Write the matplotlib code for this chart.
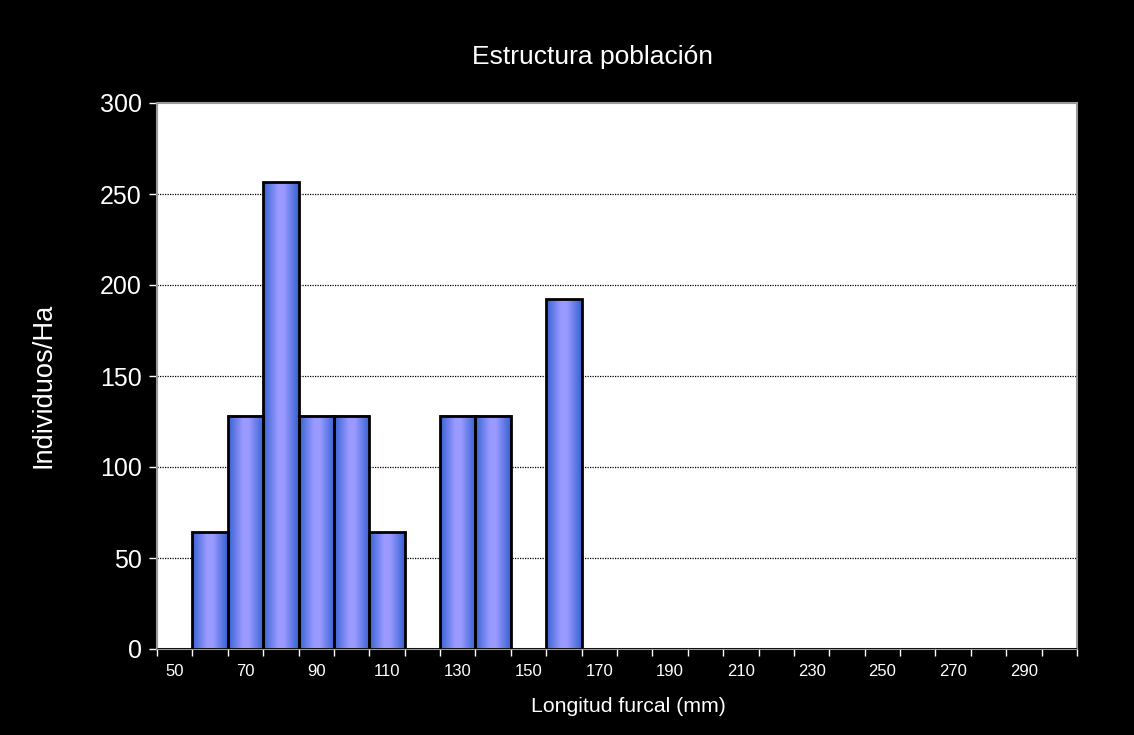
import numpy as np
import matplotlib
matplotlib.use("Agg")
import matplotlib.pyplot as plt
from matplotlib.colors import LinearSegmentedColormap

categories = [50, 60, 70, 80, 90, 100, 110, 120, 130, 140, 150, 160, 170, 180,
              190, 200, 210, 220, 230, 240, 250, 260, 270, 280, 290, 300]
values = [0, 64.1, 128.2, 256.4, 128.2, 128.2, 64.1, 0, 128.2, 128.2, 0, 192.3, 0, 0,
          0, 0, 0, 0, 0, 0, 0, 0, 0, 0, 0, 0]
yticks = [0, 50, 100, 150, 200, 250, 300]

plt.rcParams['font.family'] = ['Liberation Sans', 'DejaVu Sans']

fig = plt.figure(figsize=(11.34, 7.35), dpi=100, facecolor='black')
ax = fig.add_axes([157/1134, 1-649/735, (1077-157)/1134, (649-103)/735])
ax.set_facecolor('white')

x = np.arange(len(categories))

cmap = LinearSegmentedColormap.from_list('g', [(0, '#3560d2'), (0.42, '#9b9bff'),
                                               (0.58, '#9b9bff'), (1, '#3560d2')])
grad = np.linspace(0, 1, 256).reshape(1, -1)
bars = ax.bar(x, values, width=1.0, fill=False, edgecolor='black', linewidth=2, zorder=3)
for b, v in zip(bars, values):
    if v > 0:
        x0 = b.get_x()
        ax.imshow(grad, cmap=cmap, aspect='auto', extent=(x0, x0 + b.get_width(), 0, v),
                  zorder=2, interpolation='bicubic')
ax.set_xlim(-0.5, len(categories) - 0.5)
ax.set_ylim(0, 300)

for y in yticks[1:-1]:
    ax.axhline(y, color='black', linestyle=(0, (1, 1)), linewidth=0.9, zorder=1)

ax.set_yticks(yticks)
ax.set_yticklabels([str(v) for v in yticks], fontsize=18, color='white')
ax.tick_params(axis='y', colors='white', length=6, width=1, direction='out', pad=5)

ax.set_xticks(x[::2])
ax.set_xticklabels([str(c) for c in categories[::2]], fontsize=12, color='white')
ax.set_xticks(np.arange(len(categories) + 1) - 0.5, minor=True)
ax.tick_params(axis='x', which='major', length=0, pad=11, labelcolor='white')
ax.tick_params(axis='x', which='minor', length=5, width=1, color='white', direction='out')

for s in ax.spines.values():
    s.set_color('#9a9a9a')
    s.set_linewidth(1.5)

fig.text(592/1134, 1-57/735, 'Estructura población', color='white', fontsize=19,
         ha='center', va='center')
fig.text(628/1134, 1-706/735, 'Longitud furcal (mm)', color='white', fontsize=15.3,
         ha='center', va='center')
fig.text(44/1134, 1-385/735, 'Individuos/Ha', color='white', fontsize=19.6,
         ha='center', va='center', rotation=90)

fig.savefig('out.png', dpi=100, facecolor='black')
